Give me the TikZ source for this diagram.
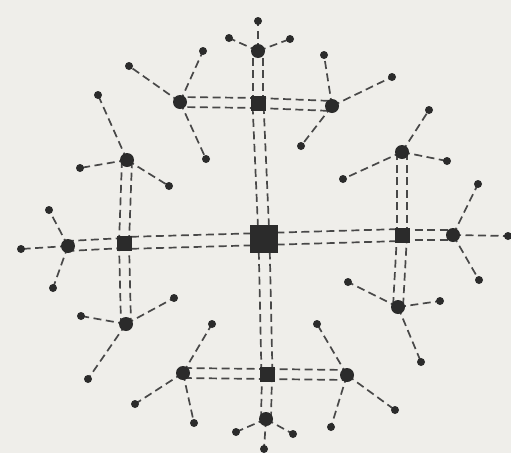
\documentclass[tikz,border=0pt]{standalone}
\usetikzlibrary{calc}
\definecolor{paper}{HTML}{EFEEEA}
\definecolor{ink}{HTML}{2B2B2B}
\definecolor{lineink}{HTML}{484848}
\pgfdeclarelayer{paperlayer}
\pgfdeclarelayer{edges}
\pgfsetlayers{paperlayer,edges,main}
\begin{document}
\begin{tikzpicture}[x=1pt,y=-1pt,
  bigsq/.style={fill=ink,draw=none,minimum size=28pt,inner sep=0pt,rectangle},
  smallsq/.style={fill=ink,draw=none,minimum size=15pt,inner sep=0pt,rectangle},
  hub/.style={fill=ink,draw=none,circle,minimum size=14pt,inner sep=0pt},
  leaf/.style={fill=ink,draw=none,circle,minimum size=8pt,inner sep=0pt},
  single/.style={draw=lineink,line width=1.7pt,dash pattern=on 8pt off 4.5pt}]
\begin{pgfonlayer}{paperlayer}
\fill[paper] (0,0) rectangle (511,453);
\end{pgfonlayer}
\useasboundingbox (0,0) rectangle (511,453);
% squares
\node[bigsq] (C) at (264,239) {};
\node[smallsq] (ST) at (258,103) {};
\node[smallsq] (SL) at (124,243) {};
\node[smallsq] (SR) at (402,235) {};
\node[smallsq] (SB) at (267,374) {};
% hubs
\node[hub] (T) at (258,51) {};
\node[hub] (TL) at (180,102) {};
\node[hub] (TR) at (332,106) {};
\node[hub] (UL) at (127,160) {};
\node[hub] (L) at (68,246) {};
\node[hub] (LL) at (126,324) {};
\node[hub] (UR) at (402,152) {};
\node[hub] (R) at (453,235) {};
\node[hub] (LR) at (398,307) {};
\node[hub] (BL) at (183,373) {};
\node[hub] (B) at (266,419) {};
\node[hub] (BR) at (347,375) {};
% leaves
\node[leaf] (T1) at (258,21) {};
\node[leaf] (T2) at (229,38) {};
\node[leaf] (T3) at (290,39) {};
\node[leaf] (TL1) at (129,66) {};
\node[leaf] (TL2) at (203,51) {};
\node[leaf] (TL3) at (206,159) {};
\node[leaf] (TR1) at (324,55) {};
\node[leaf] (TR2) at (392,77) {};
\node[leaf] (TR3) at (301,146) {};
\node[leaf] (UL1) at (98,95) {};
\node[leaf] (UL2) at (80,168) {};
\node[leaf] (UL3) at (169,186) {};
\node[leaf] (L1) at (21,249) {};
\node[leaf] (L2) at (49,210) {};
\node[leaf] (L3) at (53,288) {};
\node[leaf] (LL1) at (81,316) {};
\node[leaf] (LL2) at (174,298) {};
\node[leaf] (LL3) at (88,379) {};
\node[leaf] (UR1) at (429,110) {};
\node[leaf] (UR2) at (447,161) {};
\node[leaf] (UR3) at (343,179) {};
\node[leaf] (R1) at (508,236) {};
\node[leaf] (R2) at (478,184) {};
\node[leaf] (R3) at (479,280) {};
\node[leaf] (LR1) at (348,282) {};
\node[leaf] (LR2) at (440,301) {};
\node[leaf] (LR3) at (421,362) {};
\node[leaf] (BL1) at (212,324) {};
\node[leaf] (BL2) at (135,404) {};
\node[leaf] (BL3) at (194,423) {};
\node[leaf] (B1) at (236,432) {};
\node[leaf] (B2) at (293,434) {};
\node[leaf] (B3) at (264,449) {};
\node[leaf] (BR1) at (317,324) {};
\node[leaf] (BR2) at (395,410) {};
\node[leaf] (BR3) at (331,427) {};
\begin{pgfonlayer}{edges}
% double links: two parallel dashed lines
\foreach \a/\b/\w in {C/ST/5.5,C/SL/6,C/SR/6,C/SB/5.5,ST/T/5,ST/TL/5,ST/TR/5,SL/L/5,SL/UL/5,SL/LL/5,SR/R/5,SR/UR/5,SR/LR/5,SB/B/5,SB/BL/5,SB/BR/5}{
  \draw[single] ($(\a.center)!\w pt!90:(\b.center)$) -- ($(\b.center)!\w pt!-90:(\a.center)$);
  \draw[single] ($(\a.center)!\w pt!-90:(\b.center)$) -- ($(\b.center)!\w pt!90:(\a.center)$);
}
% single links
\foreach \h in {T,TL,TR,UL,L,LL,UR,R,LR,BL,B,BR}
  \foreach \i in {1,2,3}
    \draw[single] (\h.center) -- (\h\i.center);
\end{pgfonlayer}
\end{tikzpicture}
\end{document}
